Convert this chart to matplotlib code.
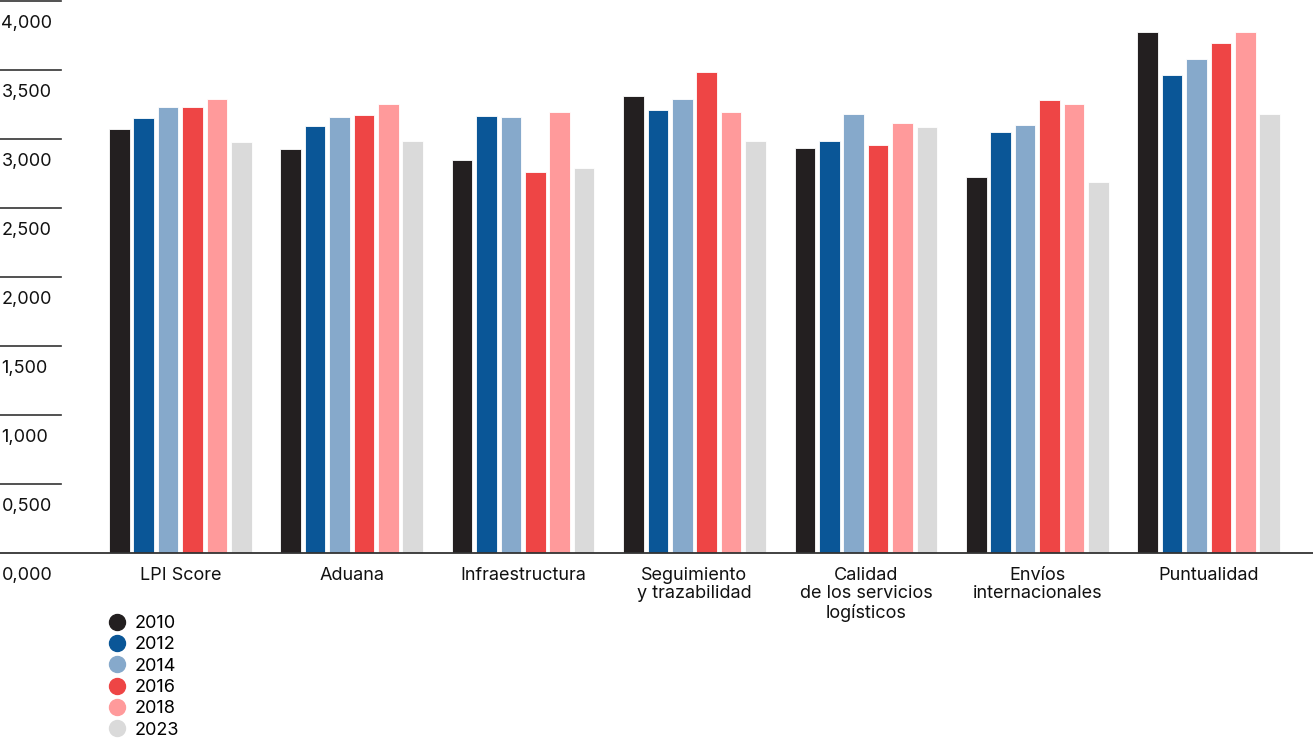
import numpy as np
import matplotlib
matplotlib.use('agg')
import matplotlib.pyplot as plt
from matplotlib.lines import Line2D

plt.rcParams['font.family'] = ['Inter', 'DejaVu Sans']

categories = ['LPI Score', 'Aduana', 'Infraestructura', 'Seguimiento\ny trazabilidad',
              'Calidad\nde los servicios\nlogísticos', 'Envíos\ninternacionales', 'Puntualidad']
years = ['2010', '2012', '2014', '2016', '2018', '2023']
colors = ['#231F20', '#0A5697', '#86A9CB', '#EE4545', '#FF9A9B', '#DADADA']

v2010 = [3.070, 2.925, 2.845, 3.310, 2.932, 2.727, 3.776]
v2012 = [3.150, 3.094, 3.167, 3.210, 2.988, 3.051, 3.462]
v2014 = [3.230, 3.157, 3.157, 3.290, 3.184, 3.104, 3.578]
v2016 = [3.230, 3.176, 2.761, 3.488, 2.959, 3.283, 3.696]
v2018 = [3.292, 3.256, 3.193, 3.193, 3.114, 3.256, 3.776]
v2023 = [2.978, 2.988, 2.790, 2.985, 3.085, 2.690, 3.183]
series = [v2010, v2012, v2014, v2016, v2018, v2023]

yticks = [0, 0.5, 1.0, 1.5, 2.0, 2.5, 3.0, 3.5, 4.0]
ytick_labels = ['0,000', '0,500', '1,000', '1,500', '2,000', '2,500', '3,000', '3,500', '4,000']

W, H = 1313, 739
fig = plt.figure(figsize=(W / 100, H / 100), dpi=100)
y0_px, y4_px = 552.7, 1.0
ax = fig.add_axes([0, (H - y0_px) / H, 1, (y0_px - y4_px) / H])

pitch = 171.4
center0 = 180.3
x = np.arange(len(categories))
bar_pitch = 24.4 / pitch
bar_w = 20.5 / pitch
for k, (vals, c) in enumerate(zip(series, colors)):
    ax.bar(x + (k - 2.5) * bar_pitch, vals, width=bar_w, color=c,
           edgecolor='white', linewidth=0.6, zorder=2)

ax.set_xlim(-center0 / pitch, (W - center0) / pitch)
ax.set_ylim(0, 4)
ax.axis('off')

# baseline and short left tick lines
ax.axhline(0, color='#333333', linewidth=1.3, zorder=3, clip_on=False)
for v, lab in zip(yticks, ytick_labels):
    if v > 0:
        ax.axhline(v, xmin=0, xmax=61 / W, color='#333333', linewidth=1.2, clip_on=False)
    ax.annotate(lab, xy=(0, v), xycoords=('axes fraction', 'data'),
                xytext=(1, -16.5), textcoords='offset points',
                ha='left', va='center', fontsize=13, color='#111111')

for i, cat in enumerate(categories):
    ax.annotate(cat, xy=(i, 0), xycoords='data', xytext=(0, -10), textcoords='offset points',
                ha='center', va='top', fontsize=13, color='#111111',
                linespacing=1.13, multialignment='center')

handles = [Line2D([], [], linestyle='none', marker='o', markersize=11.5,
                  markerfacecolor=c, markeredgecolor=c) for c in colors]
fig.legend(handles, years, loc='upper left', bbox_to_anchor=(108 / W, 1 - 615 / H),
           frameon=False, fontsize=13, handlelength=1.0, handletextpad=0.5,
           labelspacing=0.24, borderpad=0, borderaxespad=0)

fig.savefig('out.png', dpi=100)
